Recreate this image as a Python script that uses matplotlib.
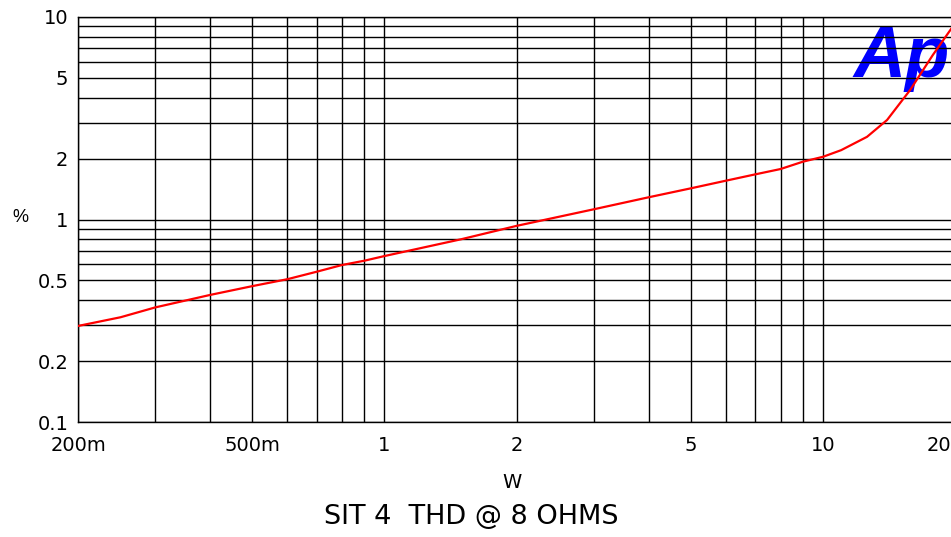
import matplotlib
matplotlib.use("Agg")
import matplotlib.pyplot as plt
from matplotlib.ticker import FixedLocator, NullFormatter, LogLocator
from matplotlib.transforms import ScaledTranslation

# Data
power_w = [0.2, 0.25, 0.3, 0.4, 0.5, 0.6, 0.7, 0.8, 0.9, 1.0, 1.5, 2.0, 3.0, 4.0,
           5.0, 6.0, 7.0, 8.0, 9.0, 10.0, 11.0, 12.6, 14.0, 15.8, 17.8, 19.5, 20.0]
thd_pct = [0.298, 0.329, 0.368, 0.424, 0.469, 0.507, 0.552, 0.596, 0.626, 0.66,
           0.80, 0.93, 1.123, 1.287, 1.426, 1.554, 1.67, 1.775, 1.93, 2.04, 2.2,
           2.56, 3.1, 4.36, 6.49, 8.6, 9.3]

x_ticks = [0.2, 0.5, 1, 2, 5, 10, 20]
x_tick_labels = ["200m", "500m", "1", "2", "5", "10", "20"]
y_ticks = [0.1, 0.2, 0.5, 1, 2, 5, 10]
y_tick_labels = ["0.1", "0.2", "0.5", "1", "2", "5", "10"]

title = "SIT 4  THD @ 8 OHMS"
x_label = "W"
y_label = "%"

W, H = 951, 537
fig = plt.figure(figsize=(W / 100, H / 100), dpi=100)
fig.patch.set_facecolor("white")
plt.rcParams["font.family"] = ["DejaVu Sans"]
arial = ["Liberation Sans", "DejaVu Sans"]

left, right, top, bottom = 78, 955, 17, 422
ax = fig.add_axes([left / W, (H - bottom) / H, (right - left) / W, (bottom - top) / H])
ax.set_xscale("log")
ax.set_yscale("log")
ax.set_xlim(0.2, 20)
ax.set_ylim(0.1, 10)

ax.xaxis.set_major_locator(FixedLocator(x_ticks))
ax.set_xticklabels(x_tick_labels)
ax.yaxis.set_major_locator(FixedLocator(y_ticks))
ax.set_yticklabels(y_tick_labels)
ax.xaxis.set_minor_locator(LogLocator(base=10, subs=range(1, 10), numticks=20))
ax.yaxis.set_minor_locator(LogLocator(base=10, subs=range(1, 10), numticks=20))
ax.xaxis.set_minor_formatter(NullFormatter())
ax.yaxis.set_minor_formatter(NullFormatter())

ax.grid(True, which="both", color="black", linewidth=1.0)
ax.set_axisbelow(True)
ax.tick_params(which="both", length=0)
ax.tick_params(axis="x", pad=10, labelsize=14)
ax.tick_params(axis="y", pad=7, labelsize=14)
for s in ax.spines.values():
    s.set_color("black")
    s.set_linewidth(1.0)

# last x tick label sits shifted left, as in the reference
last = ax.get_xticklabels()[-1]
last.set_transform(last.get_transform() + ScaledTranslation(-0.16, 0, fig.dpi_scale_trans))

# Ap logo
fig.text(853 / W, (H - 77) / H, "Ap", color="#0000ff", fontsize=52,
         fontweight="bold", fontstyle="italic", ha="left", va="baseline",
         family=arial, zorder=1)

ax.set_zorder(2)
ax.patch.set_alpha(0)
ax.plot(power_w, thd_pct, color="#ff0000", linewidth=1.6, zorder=3)

fig.text(20 / W, 1 - 218 / H, y_label, fontsize=13, ha="center", va="center", family=arial)
fig.text(512 / W, 1 - 482 / H, x_label, fontsize=14, ha="center", va="center")
fig.text(471 / W, 1 - 517 / H, title, fontsize=19.5, ha="center", va="center")

fig.savefig("out.png", dpi=100, facecolor="white")
